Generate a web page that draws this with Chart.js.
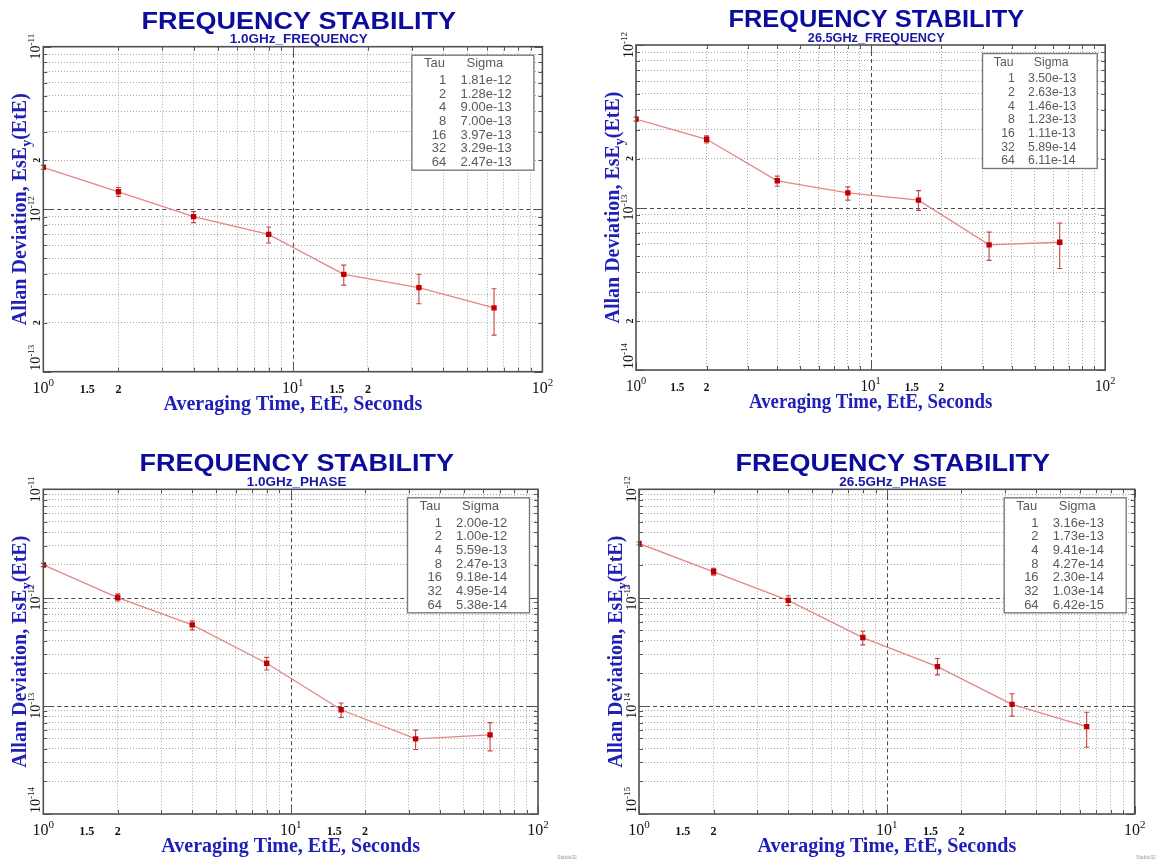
<!DOCTYPE html>
<html>
<head>
<meta charset="utf-8">
<script src="https://cdn.jsdelivr.net/npm/chart.js@4.4.1/dist/chart.umd.min.js"></script>
<style>
  body { margin: 0; background: #fff; width: 1158px; height: 862px; overflow: hidden; position: relative; }
  canvas { position: absolute; }
</style>
</head>
<body>
<canvas id="c1" width="579" height="430" style="left:0;top:0"></canvas>
<canvas id="c2" width="579" height="430" style="left:579px;top:0"></canvas>
<canvas id="c3" width="579" height="432" style="left:0;top:430px"></canvas>
<canvas id="c4" width="579" height="432" style="left:579px;top:430px"></canvas>
<script>
// averaging times (s)
const tau = [1, 2, 4, 8, 16, 32, 64];

// 1.0GHz_FREQUENCY
const sigmaFreq1G = [1.81e-12, 1.28e-12, 9.00e-13, 7.00e-13, 3.97e-13, 3.29e-13, 2.47e-13];
const loFreq1G = [1.76e-12, 1.20e-12, 8.27e-13, 6.19e-13, 3.41e-13, 2.62e-13, 1.68e-13];
const hiFreq1G = [1.86e-12, 1.36e-12, 9.66e-13, 7.77e-13, 4.53e-13, 3.98e-13, 3.24e-13];

// 26.5GHz_FREQUENCY
const sigmaFreq26G = [3.50e-13, 2.63e-13, 1.46e-13, 1.23e-13, 1.11e-13, 5.89e-14, 6.11e-14];
const loFreq26G = [3.40e-13, 2.50e-13, 1.35e-13, 1.11e-13, 0.96e-13, 4.73e-14, 4.21e-14];
const hiFreq26G = [3.60e-13, 2.76e-13, 1.56e-13, 1.34e-13, 1.27e-13, 7.05e-14, 8.03e-14];

// 1.0GHz_PHASE
const sigmaPhase1G = [2.00e-12, 1.00e-12, 5.59e-13, 2.47e-13, 9.18e-14, 4.95e-14, 5.38e-14];
const loPhase1G = [1.93e-12, 0.93e-12, 5.03e-13, 2.14e-13, 7.80e-14, 3.94e-14, 3.83e-14];
const hiPhase1G = [2.07e-12, 1.08e-12, 6.08e-13, 2.80e-13, 1.06e-13, 5.95e-14, 6.99e-14];

// 26.5GHz_PHASE
const sigmaPhase26G = [3.16e-13, 1.73e-13, 9.41e-14, 4.27e-14, 2.30e-14, 1.03e-14, 6.42e-15];
const loPhase26G = [3.06e-13, 1.61e-13, 8.45e-14, 3.65e-14, 1.93e-14, 8.03e-15, 4.14e-15];
const hiPhase26G = [3.26e-13, 1.86e-13, 1.04e-13, 4.88e-14, 2.73e-14, 1.29e-14, 8.70e-15];

// tick labels
const xTickValues = [1, 1.5, 2, 10, 15, 20, 100];
const xTickLabels = ["10^0", "1.5", "2", "10^1", "1.5", "2", "10^2"];
const yTicksFreq1G = [1e-11, 2e-12, 1e-12, 2e-13, 1e-13];
const yLabelsFreq1G = ["10^-11", "2", "10^-12", "2", "10^-13"];
const yTicksFreq26G = [1e-12, 2e-13, 1e-13, 2e-14, 1e-14];
const yLabelsFreq26G = ["10^-12", "2", "10^-13", "2", "10^-14"];
const yTicksPhase1G = [1e-11, 1e-12, 1e-13, 1e-14];
const yLabelsPhase1G = ["10^-11", "10^-12", "10^-13", "10^-14"];
const yTicksPhase26G = [1e-12, 1e-13, 1e-14, 1e-15];
const yLabelsPhase26G = ["10^-12", "10^-13", "10^-14", "10^-15"];

const mainTitle = "FREQUENCY STABILITY";
const xTitle = "Averaging Time, EtE, Seconds";
const yTitleParts = ["Allan Deviation, EsE", "y", "(EtE)"];

const panels = [
  { id: "c1", sub: "1.0GHz_FREQUENCY", sigma: sigmaFreq1G, lo: loFreq1G, hi: hiFreq1G,
    yMin: 1e-13, yMax: 1e-11, yTicks: yTicksFreq1G, yLabels: yLabelsFreq1G,
    pad: { left: 43.3, top: 46.7, right: 36.6, bottom: 58.3 }, k: 1, stamp: false },
  { id: "c2", sub: "26.5GHz_FREQUENCY", sigma: sigmaFreq26G, lo: loFreq26G, hi: hiFreq26G,
    yMin: 1e-14, yMax: 1e-12, yTicks: yTicksFreq26G, yLabels: yLabelsFreq26G,
    pad: { left: 57, top: 45, right: 52.8, bottom: 60 }, k: 0.94, stamp: false },
  { id: "c3", sub: "1.0GHz_PHASE", sigma: sigmaPhase1G, lo: loPhase1G, hi: hiPhase1G,
    yMin: 1e-14, yMax: 1e-11, yTicks: yTicksPhase1G, yLabels: yLabelsPhase1G,
    pad: { left: 43.3, top: 59.3, right: 41, bottom: 48 }, k: 1, stamp: true },
  { id: "c4", sub: "26.5GHz_PHASE", sigma: sigmaPhase26G, lo: loPhase26G, hi: hiPhase26G,
    yMin: 1e-15, yMax: 1e-12, yTicks: yTicksPhase26G, yLabels: yLabelsPhase26G,
    pad: { left: 60, top: 59.3, right: 23.3, bottom: 48 }, k: 1, stamp: true },
];

const isDecade = v => Math.abs(Math.log10(v) - Math.round(Math.log10(v))) < 1e-6;

function logGrid(min, max) {
  const out = [];
  for (let d = Math.round(Math.log10(min)); d < Math.round(Math.log10(max)); d++) {
    for (let m = 1; m < 10; m++) out.push(m * Math.pow(10, d));
  }
  out.push(max);
  return out;
}

const SERIF = '"Liberation Serif", "Times New Roman", serif';
const SANS = '"Liberation Sans", Arial, sans-serif';

// "10^-12" -> base + raised exponent
function drawPow(ctx, label, x, y, size, align) {
  const i = label.indexOf("^");
  const base = i < 0 ? label : label.slice(0, i);
  const exp = i < 0 ? "" : label.slice(i + 1);
  const baseFont = exp ? `${size}px ${SERIF}` : `bold ${Math.round(size * 0.72)}px ${SERIF}`;
  const expFont = `${Math.round(size * 0.66)}px ${SERIF}`;
  ctx.font = baseFont;
  const wb = ctx.measureText(base).width;
  ctx.font = expFont;
  const we = exp ? ctx.measureText(exp).width : 0;
  const w = wb + we;
  const x0 = align === "center" ? x - w / 2 : align === "right" ? x - w : x;
  ctx.textAlign = "left";
  ctx.textBaseline = "alphabetic";
  ctx.font = baseFont;
  ctx.fillText(base, x0, y);
  if (exp) {
    ctx.font = expFont;
    ctx.fillText(exp, x0 + wb, y - size * 0.45);
  }
}

function hText(ctx, text, x, y, k, align) {
  ctx.save();
  ctx.translate(x, y);
  ctx.scale(k, 1);
  ctx.textAlign = align;
  ctx.textBaseline = "alphabetic";
  ctx.fillText(text, 0, 0);
  ctx.restore();
}

function fmtSigma(v) {
  return v.toExponential(2).replace(/e([+-])(\d)$/, "e$10$2");
}

function paperPlugin(p) {
  return {
    id: "paper" + p.id,
    beforeDatasetsDraw(chart) {
      const { ctx, chartArea: a, scales: { x, y } } = chart;
      ctx.save();
      // decade lines
      ctx.strokeStyle = "#4a4a4a";
      ctx.lineWidth = 1;
      ctx.setLineDash([4, 3]);
      ctx.beginPath();
      logGrid(1, 100).filter(isDecade).forEach(v => {
        if (v <= 1 || v >= 100) return;
        const px = Math.round(x.getPixelForValue(v)) + 0.5;
        ctx.moveTo(px, a.top); ctx.lineTo(px, a.bottom);
      });
      logGrid(p.yMin, p.yMax).filter(isDecade).forEach(v => {
        if (v <= p.yMin * 1.001 || v >= p.yMax * 0.999) return;
        const py = Math.round(y.getPixelForValue(v)) + 0.5;
        ctx.moveTo(a.left, py); ctx.lineTo(a.right, py);
      });
      ctx.stroke();
      // error bars
      ctx.setLineDash([]);
      ctx.strokeStyle = "#c54545";
      ctx.lineWidth = 1.1;
      ctx.beginPath();
      tau.forEach((t, i) => {
        const px = x.getPixelForValue(t);
        const y1 = y.getPixelForValue(p.lo[i]);
        const y2 = y.getPixelForValue(p.hi[i]);
        ctx.moveTo(px, y1); ctx.lineTo(px, y2);
        ctx.moveTo(px - 2.5, y1); ctx.lineTo(px + 2.5, y1);
        ctx.moveTo(px - 2.5, y2); ctx.lineTo(px + 2.5, y2);
      });
      ctx.stroke();
      ctx.restore();
    },
    afterDraw(chart) {
      const { ctx, chartArea: a, scales: { x, y } } = chart;
      const k = p.k;
      const cx = (a.left + a.right) / 2;
      const cy = (a.top + a.bottom) / 2;
      ctx.save();

      // inner tick marks
      ctx.strokeStyle = "#555";
      ctx.lineWidth = 1;
      ctx.beginPath();
      logGrid(1, 100).forEach(v => {
        const px = Math.round(x.getPixelForValue(v)) + 0.5;
        const len = isDecade(v) ? 8 : 4;
        ctx.moveTo(px, a.bottom); ctx.lineTo(px, a.bottom - len);
        ctx.moveTo(px, a.top); ctx.lineTo(px, a.top + len);
      });
      logGrid(p.yMin, p.yMax).forEach(v => {
        const py = Math.round(y.getPixelForValue(v)) + 0.5;
        const len = isDecade(v) ? 8 : 4;
        ctx.moveTo(a.left, py); ctx.lineTo(a.left + len, py);
        ctx.moveTo(a.right, py); ctx.lineTo(a.right - len, py);
      });
      ctx.stroke();

      // frame
      ctx.strokeStyle = "#505050";
      ctx.lineWidth = 1.6;
      ctx.strokeRect(a.left, a.top, a.right - a.left, a.bottom - a.top);

      // titles
      ctx.fillStyle = "#0c0c9c";
      ctx.font = `bold 24px ${SANS}`;
      hText(ctx, mainTitle, cx + 6 * k, a.top - 18, 1.125 * k, "center");
      ctx.fillStyle = "#1818a6";
      ctx.font = `bold 13.5px ${SANS}`;
      hText(ctx, p.sub, cx + 6 * k, a.top - 3.5, k, "center");

      // x tick labels
      ctx.fillStyle = "#111";
      xTickValues.forEach((v, i) => {
        const px = x.getPixelForValue(v);
        ctx.save();
        ctx.translate(px, a.bottom + 21);
        ctx.scale(k, 1);
        drawPow(ctx, xTickLabels[i], 0, 0, 16, "center");
        ctx.restore();
      });

      // y tick labels (rotated)
      p.yTicks.forEach((v, i) => {
        const py = y.getPixelForValue(v);
        const bottom = Math.abs(v - p.yMin) < p.yMin * 1e-6;
        ctx.save();
        ctx.translate(a.left - 3, bottom ? py - 1 : py);
        ctx.rotate(-Math.PI / 2);
        drawPow(ctx, p.yLabels[i], 0, 0, 14, bottom ? "left" : "center");
        ctx.restore();
      });

      // axis titles
      ctx.fillStyle = "#2020b8";
      ctx.font = `bold 20px ${SERIF}`;
      hText(ctx, xTitle, cx, a.bottom + 38, k, "center");

      ctx.save();
      ctx.translate(a.left - 17, cy);
      ctx.rotate(-Math.PI / 2);
      const bigF = `bold 20px ${SERIF}`, subF = `bold 14px ${SERIF}`;
      ctx.font = bigF;
      const w0 = ctx.measureText(yTitleParts[0]).width;
      const w2 = ctx.measureText(yTitleParts[2]).width;
      ctx.font = subF;
      const w1 = ctx.measureText(yTitleParts[1]).width;
      let tx = -(w0 + w1 + w2) / 2;
      ctx.textAlign = "left";
      ctx.textBaseline = "alphabetic";
      ctx.font = bigF;
      ctx.fillText(yTitleParts[0], tx, 0);
      ctx.font = subF;
      ctx.fillText(yTitleParts[1], tx + w0, 5);
      ctx.font = bigF;
      ctx.fillText(yTitleParts[2], tx + w0 + w1, 0);
      ctx.restore();

      // Tau / Sigma table
      const bw = 122 * k, bh = 115;
      const bx = a.right - 8.5 * k - bw, by = a.top + 8.5;
      ctx.fillStyle = "#fff";
      ctx.fillRect(bx, by, bw, bh);
      ctx.strokeStyle = "#7a7a7a";
      ctx.lineWidth = 1.4;
      ctx.strokeRect(bx, by, bw, bh);
      ctx.fillStyle = "#5a5a5a";
      ctx.font = `13px ${SANS}`;
      hText(ctx, "Tau", bx + 12 * k, by + 12, k, "left");
      hText(ctx, "Sigma", bx + 54.6 * k, by + 12, k, "left");
      tau.forEach((t, i) => {
        const ty = by + 28.8 + i * 13.65;
        hText(ctx, String(t), bx + 34.4 * k, ty, k, "right");
        hText(ctx, fmtSigma(p.sigma[i]), bx + 48.5 * k, ty, k, "left");
      });

      if (p.stamp) {
        ctx.fillStyle = "#999";
        ctx.font = `5px ${SANS}`;
        hText(ctx, "Stable32", chart.width - 12, chart.height - 3, 1, "center");
      }
      ctx.restore();
    },
  };
}

panels.forEach(p => {
  const xGrid = logGrid(1, 100);
  const yGrid = logGrid(p.yMin, p.yMax);
  const gridColor = c => (c.tick && isDecade(c.tick.value) ? "rgba(0,0,0,0)" : "#a9a9a9");
  new Chart(document.getElementById(p.id), {
    type: "line",
    data: {
      datasets: [
        {
          data: tau.map((t, i) => ({ x: t, y: p.sigma[i] })),
          borderColor: "#e28787",
          borderWidth: 1.3,
          pointStyle: "rect",
          pointRadius: 3.8,
          pointBackgroundColor: "#bf0000",
          pointBorderColor: "#bf0000",
          pointBorderWidth: 0,
          tension: 0,
        },
      ],
    },
    options: {
      responsive: false,
      animation: false,
      events: [],
      layout: { padding: p.pad },
      plugins: { legend: { display: false }, tooltip: { enabled: false } },
      scales: {
        x: {
          type: "logarithmic", min: 1, max: 100,
          afterBuildTicks: s => { s.ticks = xGrid.map(v => ({ value: v })); },
          afterFit: s => { s.height = 0; },
          ticks: { display: false },
          grid: { color: gridColor, lineWidth: 1, drawTicks: false },
          border: { display: false, dash: [1, 2] },
        },
        y: {
          type: "logarithmic", min: p.yMin, max: p.yMax,
          afterBuildTicks: s => { s.ticks = yGrid.map(v => ({ value: v })); },
          afterFit: s => { s.width = 0; },
          ticks: { display: false },
          grid: { color: gridColor, lineWidth: 1, drawTicks: false },
          border: { display: false, dash: [1, 2] },
        },
      },
    },
    plugins: [paperPlugin(p)],
  });
});
</script>
</body>
</html>
